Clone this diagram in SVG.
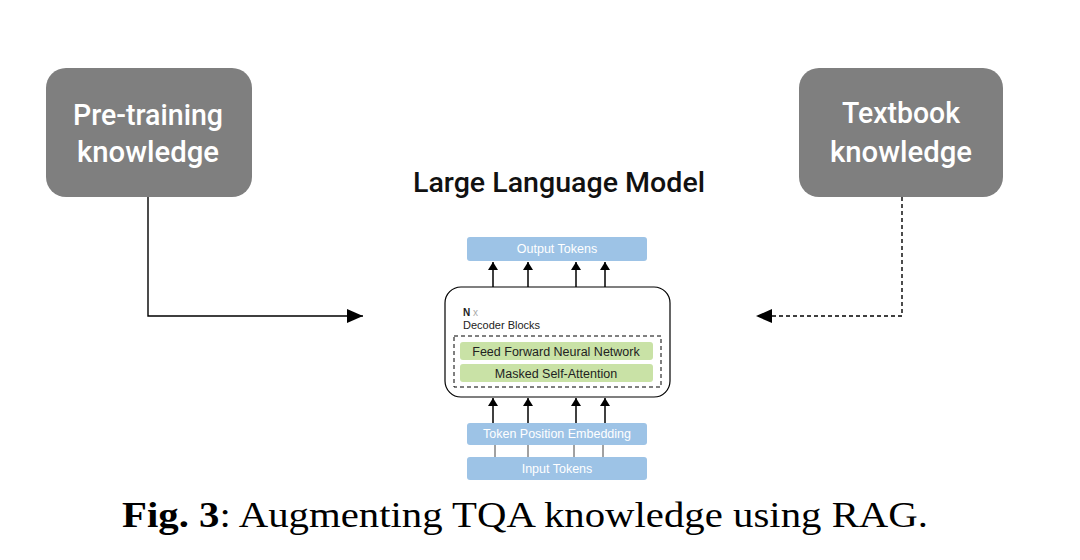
<svg xmlns="http://www.w3.org/2000/svg" width="1080" height="560" viewBox="0 0 1080 560">
  <style>
    .gbox { fill: #7f7f7f; }
    .gtxt { font-family: Roboto, "Liberation Sans", sans-serif; font-size: 30px; font-weight: 500; fill: #ffffff; text-anchor: middle; }
    .bbox { fill: #9dc3e6; }
    .btxt { font-family: "Liberation Sans", Arial, sans-serif; font-size: 12.5px; fill: #ffffff; text-anchor: middle; }
    .grn { fill: #c9e2a6; }
    .grntxt { font-family: "Liberation Sans", Arial, sans-serif; font-size: 12.5px; fill: #222222; text-anchor: middle; }
    .ln { stroke: #000; stroke-width: 1.4; fill: none; }
  </style>
  <defs>
    <marker id="bigL" viewBox="0 0 16 14" refX="16" refY="7" markerWidth="16" markerHeight="14" markerUnits="userSpaceOnUse" orient="auto">
      <path d="M0,0 L16,7 L0,14 z" fill="#000"/>
    </marker>
    <marker id="sm" viewBox="0 0 8 10" refX="8" refY="5" markerWidth="8" markerHeight="10" markerUnits="userSpaceOnUse" orient="auto">
      <path d="M0,0 L8,5 L0,10 z" fill="#000"/>
    </marker>
  </defs>
  <rect width="1080" height="560" fill="#ffffff"/>

  <g id="pretraining">
    <rect class="gbox" x="46" y="68" width="206" height="129" rx="20"/>
    <text class="gtxt" x="148" y="125" textLength="150" lengthAdjust="spacingAndGlyphs">Pre-training</text>
    <text class="gtxt" x="148" y="162" textLength="142" lengthAdjust="spacingAndGlyphs">knowledge</text>
  </g>

  <g id="textbook">
    <rect class="gbox" x="799" y="68" width="204" height="129" rx="20"/>
    <text class="gtxt" x="901" y="123" textLength="118" lengthAdjust="spacingAndGlyphs">Textbook</text>
    <text class="gtxt" x="901" y="162" textLength="142" lengthAdjust="spacingAndGlyphs">knowledge</text>
  </g>

  <g id="title">
    <text x="559" y="192" font-family="Roboto, 'Liberation Sans', sans-serif" font-size="28" font-weight="500" fill="#111" text-anchor="middle" textLength="292" lengthAdjust="spacingAndGlyphs">Large Language Model</text>
  </g>

  <g id="llm">
    <g id="output-tokens">
      <rect class="bbox" x="467" y="237" width="180" height="24" rx="3"/>
      <text class="btxt" x="557" y="253">Output Tokens</text>
    </g>
    <g id="decoder">
      <rect x="445" y="287" width="225" height="110" rx="16" fill="#fff" stroke="#000" stroke-width="1.2"/>
      <text x="463" y="316" font-family="'Liberation Sans', Arial, sans-serif" font-size="10"><tspan font-weight="bold" fill="#222">N</tspan><tspan fill="#aaa"> x</tspan></text>
      <text x="463" y="329" font-family="'Liberation Sans', Arial, sans-serif" font-size="11" fill="#222">Decoder Blocks</text>
      <rect x="454" y="336" width="207" height="51" fill="none" stroke="#000" stroke-width="1" stroke-dasharray="4,3"/>
      <g id="ffnn">
        <rect class="grn" x="460" y="342" width="193" height="18" rx="3"/>
        <text class="grntxt" x="556" y="356">Feed Forward Neural Network</text>
      </g>
      <g id="msa">
        <rect class="grn" x="460" y="364" width="193" height="18" rx="3"/>
        <text class="grntxt" x="556" y="378">Masked Self-Attention</text>
      </g>
    </g>
    <g id="token-pos">
      <rect class="bbox" x="467" y="423" width="180" height="22" rx="3"/>
      <text class="btxt" x="557" y="438">Token Position Embedding</text>
    </g>
    <g id="input-tokens">
      <rect class="bbox" x="467" y="457" width="180" height="23" rx="3"/>
      <text class="btxt" x="557" y="473">Input Tokens</text>
    </g>
  </g>

  <g id="connectors">
    <path class="ln" d="M148,197 V316 H363" marker-end="url(#bigL)"/>
    <path class="ln" d="M902,197 V316 H756" stroke-dasharray="4,3" marker-end="url(#bigL)"/>
    <g stroke="#000" stroke-width="1.5">
      <line x1="493" y1="287" x2="493" y2="262" marker-end="url(#sm)"/>
      <line x1="528" y1="287" x2="528" y2="262" marker-end="url(#sm)"/>
      <line x1="576" y1="287" x2="576" y2="262" marker-end="url(#sm)"/>
      <line x1="605" y1="287" x2="605" y2="262" marker-end="url(#sm)"/>
      <line x1="493" y1="423" x2="493" y2="398" marker-end="url(#sm)"/>
      <line x1="528" y1="423" x2="528" y2="398" marker-end="url(#sm)"/>
      <line x1="576" y1="423" x2="576" y2="398" marker-end="url(#sm)"/>
      <line x1="605" y1="423" x2="605" y2="398" marker-end="url(#sm)"/>
    </g>
    <g stroke="#444" stroke-width="1">
      <line x1="495" y1="457" x2="495" y2="445"/>
      <line x1="528" y1="457" x2="528" y2="445"/>
      <line x1="574" y1="457" x2="574" y2="445"/>
      <line x1="603" y1="457" x2="603" y2="445"/>
    </g>
  </g>

  <g id="caption">
    <text x="122" y="527" font-family="'Liberation Serif', 'Times New Roman', serif" font-size="36" fill="#000" textLength="806" lengthAdjust="spacingAndGlyphs"><tspan font-weight="bold">Fig. 3</tspan>: Augmenting TQA knowledge using RAG.</text>
  </g>
</svg>
